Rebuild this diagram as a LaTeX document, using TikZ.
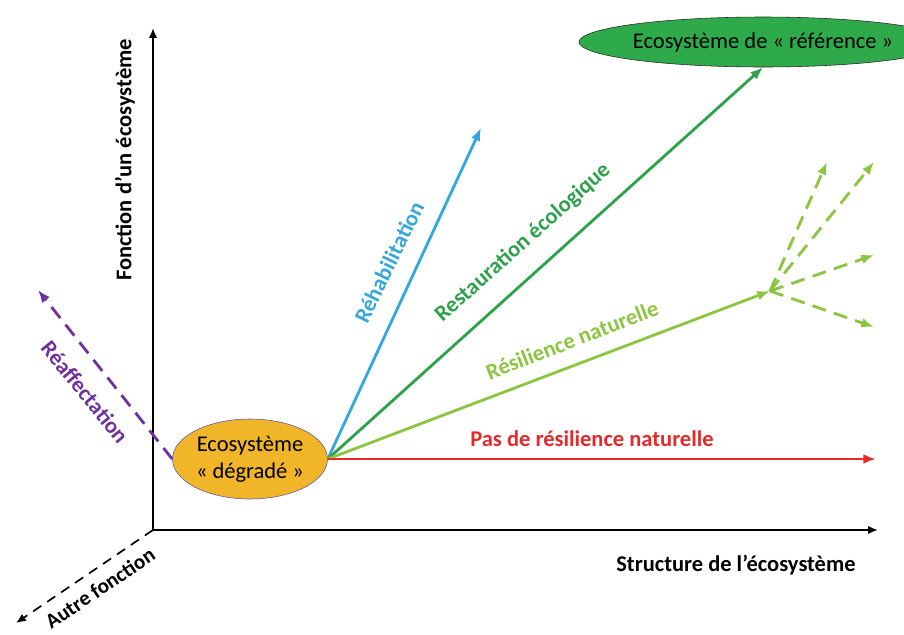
\documentclass[tikz,border=0pt]{standalone}
\usepackage{fontspec}
\setmainfont{Carlito}
\usetikzlibrary{shapes.geometric,arrows.meta}
\definecolor{degorange}{HTML}{F1B52A}
\definecolor{refgreen}{HTML}{2FAA4B}
\definecolor{rehabblue}{HTML}{35A8DB}
\definecolor{restgreen}{HTML}{2EA24A}
\definecolor{resilgreen}{HTML}{8CC540}
\definecolor{pasred}{HTML}{E62A2A}
\definecolor{reafpurple}{HTML}{7031A0}
\tikzset{axisarrow/.style={-{Latex[length=7pt,width=6pt]}, line width=1.4pt},
  patharrow/.style={-{Latex[length=9pt,width=7pt]}, line width=2pt},
  dasharrow/.style={patharrow, dash pattern=on 10pt off 6pt},
  ecobox/.style={ellipse, draw, inner sep=0pt, font=\fontsize{16}{19}\selectfont, align=center},
  pathlabel/.style={font=\bfseries\fontsize{16}{19}\selectfont}}

\begin{document}
\begin{tikzpicture}[x=0.025cm, y=-0.025cm]
\useasboundingbox (0,0) rectangle (904,634);
% axes
\coordinate (o) at (153,530);
\coordinate (ytop) at (153,28);
\coordinate (xend) at (878,530);
\coordinate (zend) at (16,623);
\draw[axisarrow] (o) -- (ytop);
\draw[axisarrow] (o) -- (xend);
\draw[axisarrow, line width=1.2pt, dash pattern=on 7pt off 5pt] (o) -- (zend);
\node[pathlabel, rotate=90] (ylab) at (125,160) {Fonction d’un écosystème};
\node[pathlabel] (xlab) at (736,565) {Structure de l’écosystème};
\node[pathlabel, rotate=34, font=\bfseries\fontsize{15}{18}\selectfont] (zlab) at (100,588) {Autre fonction};
% ecosystems
\node[ecobox, fill=degorange, draw=gray!70!blue, minimum width=155*0.025cm, minimum height=80*0.025cm] (deg) at (250,459) {Ecosystème\\« dégradé »};
\node[ecobox, fill=refgreen, draw=black!85, minimum width=277*0.025cm, minimum height=50*0.025cm] (ref) at (763,42) {Ecosystème de « référence »};
% trajectories
\coordinate (rehab) at (481,128);
\coordinate (resil) at (770,291);
\coordinate (pas) at (876,459);
\coordinate (reaf) at (38,290);
\draw[patharrow, rehabblue] (deg.east) -- (rehab);
\draw[patharrow, restgreen] (deg.east) -- (ref.south);
\draw[patharrow, resilgreen] (deg.east) -- (resil);
\draw[patharrow, pasred] (deg.east) -- (pas);
\draw[dasharrow, reafpurple] (deg.west) -- (reaf);
% possible futures
\coordinate (fut1) at (827,162);
\coordinate (fut2) at (874,162);
\coordinate (fut3) at (874,255);
\coordinate (fut4) at (874,327);
\foreach \f in {fut1,fut2,fut3,fut4}
  \draw[dasharrow, resilgreen] (resil) -- (\f);
% labels
\node[pathlabel, rehabblue, rotate=64] (rehablab) at (389,262) {Réhabilitation};
\node[pathlabel, restgreen, rotate=41.7] (restlab) at (523,243) {Restauration écologique};
\node[pathlabel, resilgreen, rotate=21] (resillab) at (572,340) {Résilience naturelle};
\node[pathlabel, pasred] (paslab) at (592,439) {Pas de résilience naturelle};
\node[pathlabel, reafpurple, rotate=-51] (reaflab) at (85,392) {Réaffectation};
\end{tikzpicture}
\end{document}
